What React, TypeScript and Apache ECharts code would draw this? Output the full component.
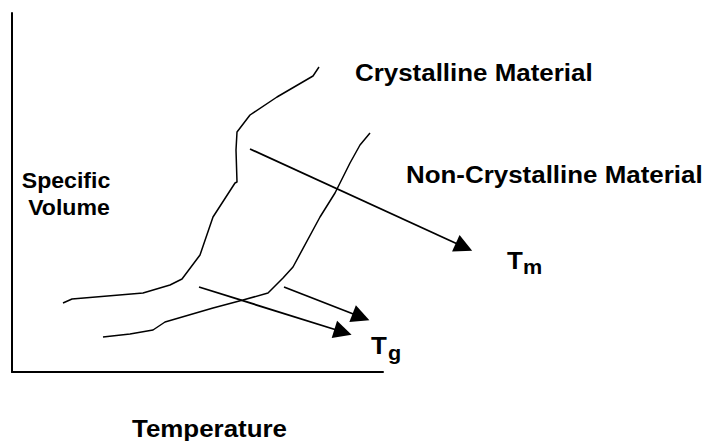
import React, { useEffect, useRef } from "react";
import * as echarts from "echarts";

// Axis extents (arbitrary units: temperature → x, specific volume → y)
const xRange = [0, 371];
const yRange = [0, 359];

// Crystalline material curve [temperature, specific volume]
const crystalline: number[][] = [
  [51, 69], [60, 73], [131, 79], [158, 87], [170, 93], [188, 117], [201, 155],
  [223, 189], [225, 190], [224, 222], [225, 240], [238, 257], [265, 275],
  [301, 296], [307, 305],
];

// Non-crystalline material curve
const nonCrystalline: number[][] = [
  [91, 35], [118, 38], [141, 42], [153, 50], [201, 64], [231, 72], [256, 79],
  [271, 94], [281, 105], [308, 155], [323, 179], [338, 209], [348, 227], [358, 239],
];

// Arrows [from, to]
const arrowTm: number[][] = [[238, 223], [452, 125]];
const arrowTg1: number[][] = [[187, 85], [331, 40]];
const arrowTg2: number[][] = [[272, 85], [349, 55]];

const labels = {
  crystalline: "Crystalline Material",
  nonCrystalline: "Non-Crystalline Material",
  yTitle1: "Specific",
  yTitle2: "Volume",
  xTitle: "Temperature",
};

const FONT = "'Liberation Sans', Arial, Helvetica, sans-serif";

export default function App() {
  const ref = useRef<HTMLDivElement>(null);
  useEffect(() => {
    if (!ref.current) return;
    const chart = echarts.init(ref.current, undefined, { renderer: "svg" });
    const txt = (
      text: string,
      x: number,
      y: number,
      size: number,
      align: string = "left",
      sx: number = 1.08
    ) => ({
      type: "text",
      x,
      y,
      scaleX: sx,
      style: {
        text,
        fill: "#000",
        font: `bold ${size}px ${FONT}`,
        align,
        verticalAlign: "middle",
      },
    });
    const lineStyle = { color: "#000", width: 1.5 };
    const arrowSeries = (coords: number[][]) => ({
      type: "lines",
      coordinateSystem: "cartesian2d",
      clip: false,
      symbol: ["none", "triangle"],
      symbolSize: [14, 18],
      lineStyle: { color: "#000", width: 1.8, opacity: 1 },
      data: [{ coords }],
    });
    chart.setOption({
      animation: false,
      backgroundColor: "#fff",
      grid: { left: 12, top: 13, right: 320, bottom: 69, containLabel: false },
      xAxis: {
        type: "value",
        min: xRange[0],
        max: xRange[1],
        axisLine: { show: true, onZero: false, lineStyle: { color: "#000", width: 2 } },
        axisTick: { show: false },
        axisLabel: { show: false },
        splitLine: { show: false },
      },
      yAxis: {
        type: "value",
        min: yRange[0],
        max: yRange[1],
        axisLine: { show: true, onZero: false, lineStyle: { color: "#000", width: 2 } },
        axisTick: { show: false },
        axisLabel: { show: false },
        splitLine: { show: false },
      },
      series: [
        {
          type: "line",
          data: crystalline,
          showSymbol: false,
          symbol: "none",
          clip: false,
          lineStyle,
        },
        {
          type: "line",
          data: nonCrystalline,
          showSymbol: false,
          symbol: "none",
          clip: false,
          lineStyle,
        },
        arrowSeries(arrowTm),
        arrowSeries(arrowTg1),
        arrowSeries(arrowTg2),
      ],
      graphic: [
        txt(labels.crystalline, 355, 72, 24),
        txt(labels.nonCrystalline, 406, 174, 24),
        txt(labels.yTitle1, 66, 181, 22, "center", 1.05),
        txt(labels.yTitle2, 69, 208, 22, "center", 1.05),
        txt(labels.xTitle, 132, 428, 24),
        txt("T", 507, 260, 24),
        txt("m", 523, 267, 20),
        txt("T", 371, 345, 24),
        txt("g", 388, 353, 20),
      ],
    });
    return () => chart.dispose();
  }, []);
  return (
    <div
      ref={ref}
      style={{ position: "absolute", left: 0, top: 0, width: 703, height: 441 }}
    />
  );
}
